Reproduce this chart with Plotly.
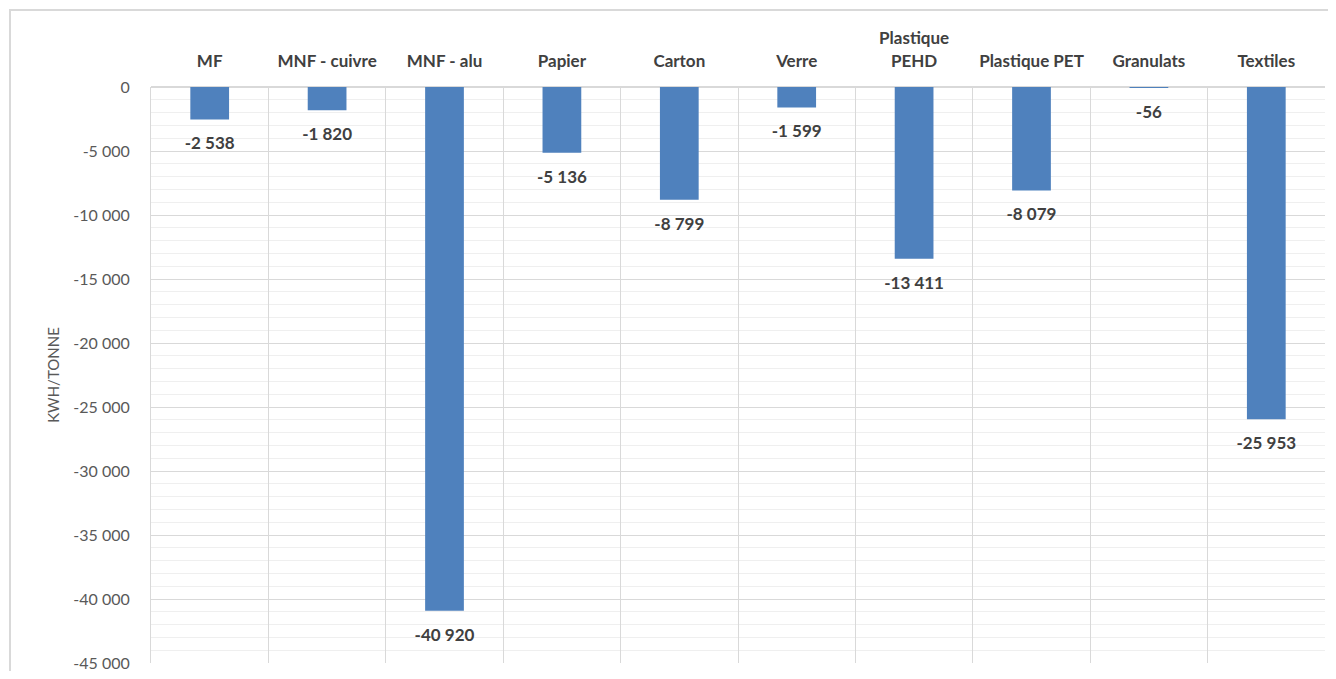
import plotly.graph_objects as go

categories = ["MF", "MNF - cuivre", "MNF - alu", "Papier", "Carton", "Verre",
              "Plastique<br>PEHD", "Plastique PET", "Granulats", "Textiles"]
values = [-2538, -1820, -40920, -5136, -8799, -1599, -13411, -8079, -56, -25953]
y_ticks = [0, -5000, -10000, -15000, -20000, -25000, -30000, -35000, -40000, -45000]


def fr_number(v):
    # French style thousands separator (space)
    s = "{:,}".format(v)
    return s.replace(",", " ")


labels = [fr_number(v) for v in values]
tick_text = [fr_number(v) for v in y_ticks]

fig = go.Figure()
fig.add_bar(
    x=categories,
    y=values,
    marker=dict(color="#4f81bd", line=dict(width=0)),
)
# data labels below the bar ends
fig.add_scatter(
    x=categories,
    y=values,
    mode="markers+text",
    text=labels,
    textposition="bottom center",
    cliponaxis=False,
    marker=dict(size=26, color="rgba(0,0,0,0)"),
    textfont=dict(family="Lato", size=17, color="#404040", weight="bold"),
    hoverinfo="skip",
)

fig.update_layout(
    width=1320,
    height=663,
    paper_bgcolor="white",
    plot_bgcolor="white",
    margin=dict(l=143, r=3, t=79, b=8, autoexpand=False),
    bargap=0.67,
    showlegend=False,
    font=dict(family="Lato", color="#595959"),
    xaxis=dict(
        side="top",
        type="category",
        range=[-0.5, len(categories) - 0.5],
        tickson="boundaries",
        automargin=False,
        showgrid=True,
        gridcolor="#d9d9d9",
        gridwidth=1,
        showline=False,
        ticks="",
        ticklabelstandoff=16,
        tickfont=dict(family="Lato", size=17, color="#404040", weight="bold"),
    ),
    yaxis=dict(
        range=[-45000, 0],
        tickvals=y_ticks,
        ticktext=tick_text,
        automargin=False,
        ticklabeloverflow="allow",
        showgrid=True,
        gridcolor="#d9d9d9",
        gridwidth=1,
        zeroline=True,
        zerolinecolor="#d9d9d9",
        showline=True,
        linecolor="#d9d9d9",
        ticks="",
        ticklabelstandoff=17,
        tickfont=dict(family="Lato", size=16, color="#595959"),
        minor=dict(dtick=1000, showgrid=True, gridcolor="#efefef", gridwidth=1),
    ),
)

# y axis title
fig.add_annotation(
    x=-0.093, y=0.50, xref="paper", yref="paper",
    text="KWH/TONNE",
    textangle=-90, showarrow=False,
    font=dict(family="Lato", size=15, color="#595959"),
)

# chart frame
fig.add_shape(
    type="rect", xref="paper", yref="paper",
    x0=-0.1201, x1=1.004, y0=-0.05, y1=1.1337,
    line=dict(color="#d9d9d9", width=2),
    fillcolor="rgba(0,0,0,0)", layer="below",
)

fig.write_html("out.html")
